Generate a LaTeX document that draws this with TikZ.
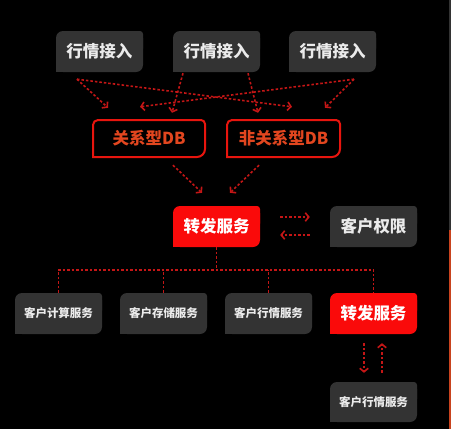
\documentclass[tikz,border=0pt]{standalone}
\usepackage{xcolor}
\usepackage{fontspec}
\usepackage{tikz}
\usetikzlibrary{arrows.meta}
\newfontfamily\cjk{Noto Sans CJK SC}
\definecolor{tilegray}{HTML}{333333}
\definecolor{tilered}{HTML}{FA0A0A}
\definecolor{dbred}{HTML}{E8150E}
\definecolor{dbtext}{HTML}{E2461F}
\definecolor{linkred}{HTML}{C41616}
\definecolor{barorange}{HTML}{C8431E}
\tikzset{
  tile/.style={minimum width=87pt,minimum height=41pt,inner sep=0pt,text=white,
    font=\cjk\bfseries\fontsize{16.5}{16.5}\selectfont,
    path picture={
      \fill[#1,rounded corners=7pt] (path picture bounding box.south west) rectangle (path picture bounding box.north east);
      \fill[#1] (path picture bounding box.south west) rectangle ++(9pt,9pt);
      \fill[#1,rounded corners=3pt] (path picture bounding box.center) rectangle (path picture bounding box.north east);}},
  small/.style={font=\cjk\bfseries\fontsize{11.5}{11.5}\selectfont,text=white!92!black},
  dbbox/.style={minimum height=39pt,inner sep=0pt,text=dbtext,
    font=\cjk\bfseries\fontsize{16.5}{16.5}\selectfont,
    path picture={
      \draw[dbred,line width=2pt] ([shift={(1pt,1pt)}]path picture bounding box.south west)
        [rounded corners=5pt] -- ([shift={(1pt,-1pt)}]path picture bounding box.north west)
        [rounded corners=4pt] -- ([shift={(-1pt,-1pt)}]path picture bounding box.north east)
        [rounded corners=8pt] -- ([shift={(-1pt,1pt)}]path picture bounding box.south east)
        [sharp corners] -- cycle;}},
  link/.style={linkred,line width=1.6pt,dash pattern=on 2.5pt off 2pt},
}
\begin{document}
\begin{tikzpicture}[x=1pt,y=-1pt,>={Straight Barb[length=3.5pt,width=8.5pt]}]
\fill[black] (0,0) rectangle (451,429);
\fill[tilegray] (449,0) rectangle (451,230);
\fill[barorange] (449,230) rectangle (451,429);
\node[tile=tilegray,text=white!92!black] (in1) at (99.5,51.5) {行情接入};
\node[tile=tilegray,text=white!92!black] (in2) at (216.5,51.5) {行情接入};
\node[tile=tilegray,text=white!92!black] (in3) at (332.5,51.5) {行情接入};
\node[dbbox,minimum width=114pt] (db1) at (149,138.5) {关系型DB};
\node[dbbox,minimum width=115pt] (db2) at (283.5,138.5) {非关系型DB};
\node[tile=tilered] (fwd) at (216.5,226.5) {转发服务};
\node[tile=tilegray,text=white!92!black] (auth) at (373.5,226.5) {客户权限};
\node[tile=tilegray,small] (calc) at (58.5,313.5) {客户计算服务};
\node[tile=tilegray,small] (store) at (163.5,313.5) {客户存储服务};
\node[tile=tilegray,small] (quote) at (268.5,313.5) {客户行情服务};
\node[tile=tilered] (fwd2) at (373.5,313.5) {转发服务};
\node[tile=tilegray,small,minimum height=40pt] (quote2) at (373.5,402) {客户行情服务};
\draw[link,->] ([shift={(-22.5,7)}]in1.south) -- ([shift={(-41,-11)}]db1.north);
\draw[link,->] ([shift={(-22.5,7)}]in1.south) -- ([shift={(8.5,-12)}]db2.north);
\draw[link,->] ([shift={(-33.5,1)}]in2.south) -- ([shift={(23,-6)}]db1.north);
\draw[link,->] ([shift={(31.5,1)}]in2.south) -- ([shift={(-25.5,-6)}]db2.north);
\draw[link,->] ([shift={(21.5,7)}]in3.south) -- ([shift={(-9,-12)}]db1.north);
\draw[link,->] ([shift={(21.5,7)}]in3.south) -- ([shift={(41.5,-11)}]db2.north);
\draw[link,->] ([shift={(24,7)}]db1.south) -- ([shift={(-14.5,-13)}]fwd.north);
\draw[link,->] ([shift={(-24.5,7)}]db2.south) -- ([shift={(13.5,-13)}]fwd.north);
\draw[link,->] ([shift={(20,-9.5)}]fwd.east) -- ([shift={(-20,-9.5)}]auth.west);
\draw[link,->] ([shift={(-20,8.5)}]auth.west) -- ([shift={(20,8.5)}]fwd.east);
\draw[link] (fwd.south) -- ++(0,23);
\draw[link] (calc.north) -- ++(0,-23) -| (fwd2.north);
\draw[link] (store.north) -- ++(0,-23);
\draw[link] (quote.north) -- ++(0,-23);
\draw[link,->] ([shift={(-9.5,9)}]fwd2.south) -- ([shift={(-9.5,-9)}]quote2.north);
\draw[link,->] ([shift={(8.5,-9)}]quote2.north) -- ([shift={(8.5,9)}]fwd2.south);
\end{tikzpicture}
\end{document}
